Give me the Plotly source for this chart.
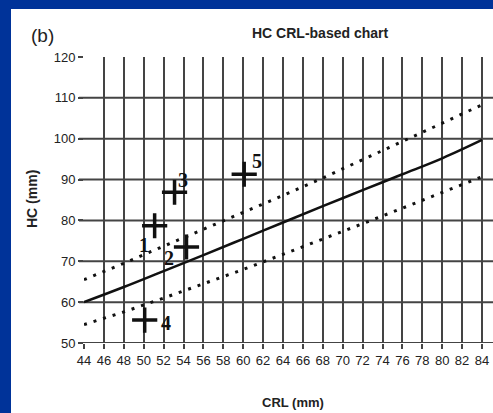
import plotly.graph_objects as go

# ---- data ----
crl_curve = [44, 48, 52, 56, 60, 64, 68, 72, 76, 80, 84]
hc_mean = [60, 63.7, 67.6, 71.5, 75.5, 79.5, 83.5, 87.4, 91.3, 95.2, 99.7]
hc_upper = [65.5, 69.5, 73.7, 77.8, 82, 86.1, 90.4, 94.8, 99.3, 103.8, 108.3]
hc_lower = [54.5, 57.6, 61, 64.5, 68, 71.7, 75.4, 79.2, 83, 86.9, 90.7]

case_labels = ["1", "2", "3", "4", "5"]
case_crl = [51.1, 54.3, 53.1, 50.1, 60.1]
case_hc = [78.7, 73.5, 86.9, 55.6, 91.3]

x_ticks = list(range(44, 86, 2))
y_ticks = list(range(50, 130, 10))
y_grid = list(range(50, 120, 10))

# label offsets (pixels) relative to each case marker
label_dx = [-11, -17, 8, 21, 13]
label_dy = [-19, -11, 12, -3, 13]

W, H = 493, 413
ML, MR, MT, MB = 84, 0, 57, 70
BLUE = "#003399"
GRID = "#444444"
NARROW = "Liberation Sans Narrow, Arial Narrow, Arial, sans-serif"
TICKFONT = dict(family=NARROW, size=13, color="#222222")

fig = go.Figure()

fig.add_trace(go.Scatter(x=crl_curve, y=hc_upper, mode="lines",
                         line=dict(color="#111111", width=3, dash="3px,7px"), hoverinfo="skip"))
fig.add_trace(go.Scatter(x=crl_curve, y=hc_lower, mode="lines",
                         line=dict(color="#111111", width=3, dash="3px,7px"), hoverinfo="skip"))
fig.add_trace(go.Scatter(x=crl_curve, y=hc_mean, mode="lines", line_shape="spline",
                         line=dict(color="#111111", width=2.5), hoverinfo="skip"))
fig.add_trace(go.Scatter(x=case_crl, y=case_hc, mode="markers",
                         marker=dict(symbol="cross-thin", size=18, line=dict(color="#111111", width=3.5)),
                         hoverinfo="skip"))

for lab, x, y, dx, dy in zip(case_labels, case_crl, case_hc, label_dx, label_dy):
    fig.add_annotation(x=x, y=y, xref="x", yref="y", text="<b>" + lab + "</b>", showarrow=False,
                       xanchor="center", yanchor="middle", xshift=dx, yshift=dy,
                       font=dict(family="Liberation Serif, Times New Roman, serif", size=20, color="#111111"))

plot_w = W - ML - MR
plot_h = H - MT - MB


def px(xp):
    return (xp - ML) / plot_w


def py(yp):
    return (MT + plot_h - yp) / plot_h


# white panel inside blue frame
fig.add_shape(type="rect", xref="paper", yref="paper",
              x0=px(11), x1=px(W + 5), y0=py(H + 5), y1=py(9),
              fillcolor="white", line=dict(width=0), layer="below")

for g in y_grid:
    fig.add_shape(type="line", xref="paper", yref="y", x0=px(79), x1=1, y0=g, y1=g,
                  line=dict(color=GRID, width=2), layer="below")

fig.add_annotation(xref="paper", yref="paper", x=px(320), y=py(33), xanchor="center", yanchor="middle",
                   text="<b>HC CRL-based chart</b>", showarrow=False,
                   font=dict(family=NARROW, size=14, color="#222222"))
fig.add_annotation(xref="paper", yref="paper", x=px(42), y=py(35), xanchor="center", yanchor="middle",
                   text="(b)", showarrow=False,
                   font=dict(family="Liberation Sans, Arial, sans-serif", size=19, color="#222222"))
fig.add_annotation(xref="paper", yref="paper", x=px(293), y=py(402), xanchor="center", yanchor="middle",
                   text="<b>CRL (mm)</b>", showarrow=False,
                   font=dict(family=NARROW, size=13, color="#222222"))
fig.add_annotation(xref="paper", yref="paper", x=px(32), y=py(199), xanchor="center", yanchor="middle",
                   text="<b>HC (mm)</b>", showarrow=False, textangle=-90,
                   font=dict(family=NARROW, size=14, color="#222222"))

fig.update_layout(
    width=W, height=H, margin=dict(l=ML, r=MR, t=MT, b=MB),
    paper_bgcolor=BLUE, plot_bgcolor="white", showlegend=False,
    xaxis=dict(range=[44, 44 + plot_w / 9.95], tickvals=x_ticks, ticktext=[str(v) for v in x_ticks],
               showgrid=True, gridcolor=GRID, gridwidth=1.8, zeroline=False, showline=False,
               ticks="outside", ticklen=5, tickwidth=1.8, tickcolor=GRID, tickfont=TICKFONT),
    yaxis=dict(range=[50, 120], tickvals=y_ticks, showgrid=False, zeroline=False, showline=False,
               ticks="outside", ticklen=5, tickwidth=1.5, tickcolor=GRID, tickfont=TICKFONT),
)

fig.write_html("out.html")
